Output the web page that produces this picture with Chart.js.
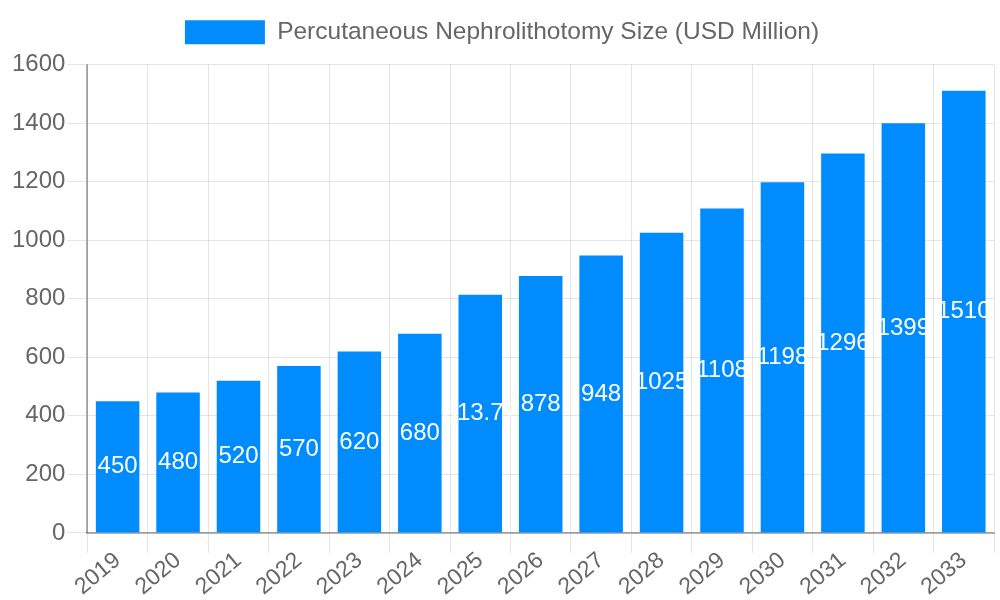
<!DOCTYPE html>
<html><head><meta charset="utf-8">
<script src="https://cdn.jsdelivr.net/npm/chart.js@4.4.0/dist/chart.umd.min.js"></script>
<style>html,body{margin:0;padding:0;background:#fff}#wrap{width:1000px;height:600px}</style>
</head><body><div id="wrap"><canvas id="c"></canvas></div>
<script>
const years = ['2019','2020','2021','2022','2023','2024','2025','2026','2027','2028','2029','2030','2031','2032','2033'];
const sizes = [450,480,520,570,620,680,813.77,878,948,1025,1108,1198,1296,1399,1510];
const seriesLabel = 'Percutaneous Nephrolithotomy Size (USD Million)';

const centerLabels = {
  id: 'centerLabels',
  afterDatasetsDraw(chart) {
    const ctx = chart.ctx;
    const meta = chart.getDatasetMeta(0);
    ctx.save();
    ctx.fillStyle = '#fff';
    ctx.font = '24px "Liberation Sans", Arial, sans-serif';
    ctx.textAlign = 'center';
    ctx.textBaseline = 'middle';
    meta.data.forEach((bar, i) => {
      const y = (bar.y + bar.base) / 2;
      ctx.fillText(String(sizes[i]), bar.x, y);
    });
    ctx.restore();
  }
};

const legendSpace = {
  id: 'legendSpace',
  beforeInit(chart) {
    const fit = chart.legend.fit;
    chart.legend.fit = function () { fit.call(this); this.height += 10; };
  }
};

Chart.defaults.font.family = '"Liberation Sans", Arial, sans-serif';
Chart.defaults.color = '#666';
new Chart(document.getElementById('c'), {
  type: 'bar',
  data: { labels: years, datasets: [{ label: seriesLabel, data: sizes, backgroundColor: '#008cff', borderWidth: 0 }] },
  options: {
    responsive: true, maintainAspectRatio: false, animation: false,
    layout: { padding: { left: 10, right: 6, bottom: 5 } },
    plugins: {
      legend: { labels: { font: { size: 24.5 }, boxWidth: 80, boxHeight: 24, padding: 20 } },
      tooltip: { enabled: false }
    },
    scales: {
      x: { grid: { offset: true, color: 'rgba(0,0,0,0.1)', tickLength: 20 },
           border: { color: 'rgba(0,0,0,0.3)', width: 2 },
           ticks: { font: { size: 23 }, maxRotation: 40, minRotation: 40, padding: -6 } },
      y: { min: 0, max: 1600, grid: { color: 'rgba(0,0,0,0.1)', tickLength: 20 },
           border: { color: 'rgba(0,0,0,0.3)', width: 2 },
           ticks: { stepSize: 200, font: { size: 24 }, padding: 2, callback: v => String(v) } }
    }
  },
  plugins: [centerLabels, legendSpace]
});
</script></body></html>
